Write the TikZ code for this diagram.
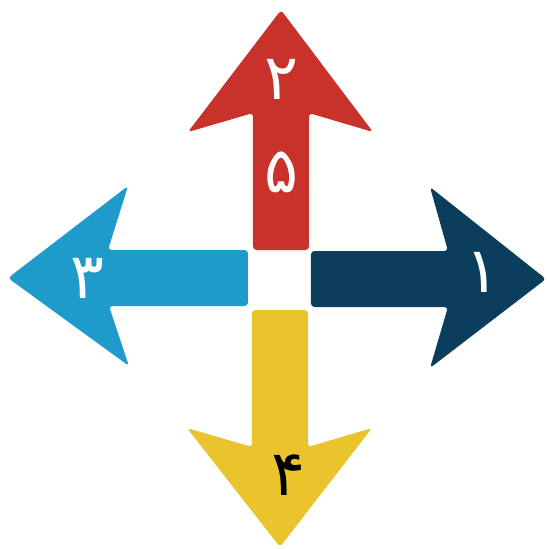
\documentclass[tikz,border=0pt]{standalone}
\usepackage{fontspec}
\newfontfamily\arabicfont[Script=Arabic]{DejaVu Sans}
\TeXXeTstate=1
\definecolor{arrred}{HTML}{C8322A}
\definecolor{arrlblue}{HTML}{1E9BCB}
\definecolor{arrnavy}{HTML}{0B3D5C}
\definecolor{arryellow}{HTML}{EAC42C}
\begin{document}
\begin{tikzpicture}[x=0.02cm,y=-0.02cm,
  arrowshape/.style={rounded corners=2pt},
  digit/.style={font=\arabicfont\fontsize{36}{36}\selectfont, inner sep=0pt}]
\useasboundingbox (0,0) rectangle (548,549);
% up (red)
\fill[arrred,arrowshape] (253,250) -- (309,250) -- (309,113) -- (373,132) -- (281,10) -- (188,132) -- (253,113) -- cycle;
% left (light blue)
\fill[arrlblue,arrowshape] (248,250) -- (248,306) -- (109,306) -- (129,366) -- (8,278) -- (128,186) -- (108,250) -- cycle;
% right (navy)
\fill[arrnavy,arrowshape] (311,251) -- (311,307) -- (448,307) -- (430,368) -- (546,279) -- (430,187) -- (448,251) -- cycle;
% down (yellow)
\fill[arryellow,arrowshape] (252,310) -- (308,310) -- (308,447) -- (372,428) -- (280,547) -- (187,428) -- (252,447) -- cycle;
\node[digit,text=white] (two) at (281,79) {\beginR ۲\endR};
\node[digit,text=white] (five) at (281,172) {\beginR ۵\endR};
\node[digit,text=white] (three) at (87,278) {\beginR ۳\endR};
\node[digit,text=white] (one) at (482,272) {\beginR ۱\endR};
\node[digit,text=black] (four) at (288,475) {\beginR ۴\endR};
\end{tikzpicture}
\end{document}
